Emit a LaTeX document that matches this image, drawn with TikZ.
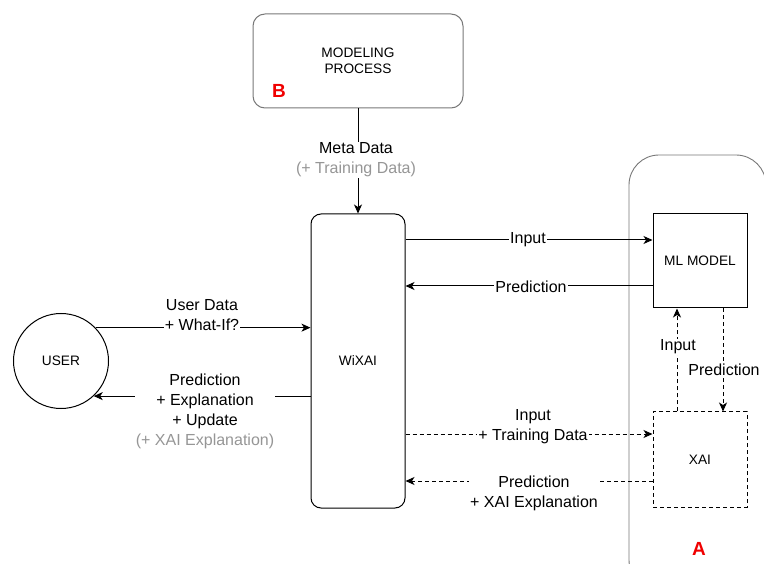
\documentclass[tikz,border=0pt]{standalone}
\usepackage{fontspec}
\setmainfont{Liberation Sans}
\usetikzlibrary{arrows.meta}
\definecolor{lgray}{RGB}{150,150,150}
\definecolor{cgray}{RGB}{120,120,120}
\definecolor{redB}{RGB}{240,0,0}
\tikzset{
  box/.style={draw, line width=1pt, inner sep=0pt, align=center, font=\fontsize{13.7}{16.5}\selectfont},
  lab/.style={fill=white, inner sep=1pt, align=center, font=\fontsize{16}{20}\selectfont},
  arr/.style={line width=1pt, -{Stealth[length=9pt,width=8pt,inset=2.5pt]}},
  dsh/.style={dash pattern=on 4pt off 3pt},
  tagtext/.style={text=redB, font=\fontsize{19}{22}\selectfont\bfseries}
}
\begin{document}
\begin{tikzpicture}[x=1pt,y=-1pt]
\useasboundingbox (0,0) rectangle (764,564);
\begin{scope}
\clip (0,0) rectangle (764,564);
\draw[cgray, line width=0.9pt, rounded corners=30pt] (629,155) rectangle (766,590);
\end{scope}
\node[tagtext] (tagA) at (699,549) {A};

\node[box, rounded corners=12pt, minimum width=210pt, minimum height=94pt, draw=cgray] (proc) at (358,61) {MODELING\\PROCESS};
\node[tagtext] (tagB) at (279,91) {B};

\node[box, rounded corners=10pt, minimum width=94pt, minimum height=294pt] (wixai) at (358,361) {WiXAI};
\node[box, circle, minimum size=95pt] (user) at (61,361) {USER};
\node[box, minimum width=94pt, minimum height=94pt] (ml) at (700,261) {ML MODEL};
\node[box, dsh, minimum width=94pt, minimum height=95pt] (xai) at (700,459.5) {XAI};

% Meta data
\draw[arr] (proc.south) -- (wixai.north);
\node[lab] (meta) at (356,160) {Meta Data\\\textcolor{lgray}{(+ Training Data)}};

% WiXAI <-> ML
\coordinate (inR) at (ml.west |- 0,240);
\coordinate (prR) at (ml.west |- 0,286);
\draw[arr] (wixai.east |- inR) -- (inR);
\node[lab] (linput) at (528,240) {Input};
\draw[arr] (prR) -- (wixai.east |- prR);
\node[lab] (lpred) at (531,287) {Prediction};

% WiXAI <-> XAI
\coordinate (itR) at (xai.west |- 0,434);
\coordinate (pxR) at (xai.west |- 0,481);
\draw[arr, dsh] (wixai.east |- itR) -- (itR);
\node[lab] (lit) at (533,426.5) {Input\\+ Training Data};
\draw[arr, dsh] (pxR) -- (wixai.east |- pxR);
\node[lab] (lpx) at (534,493) {Prediction\\+ XAI Explanation};

% ML <-> XAI
\coordinate (xin) at (xai.north -| 677,0);
\coordinate (mpr) at (ml.south -| 723,0);
\draw[arr, dsh] (xin) -- (ml.south -| xin);
\node[lab] (lvin) at (678,347) {Input};
\draw[arr, dsh] (mpr) -- (xai.north -| mpr);
\node[lab] (lvpr) at (724,370) {Prediction};

% USER <-> WiXAI
\draw[arr] (user.44) -- (wixai.west |- user.44);
\node[lab] (lud) at (202,315.5) {User Data\\+ What-If?};
\draw[arr] (wixai.west |- user.-47.5) -- (user.-47.5);
\node[lab] (lpe) at (205,411) {Prediction\\+ Explanation\\+ Update\\\textcolor{lgray}{(+ XAI Explanation)}};
\end{tikzpicture}
\end{document}
